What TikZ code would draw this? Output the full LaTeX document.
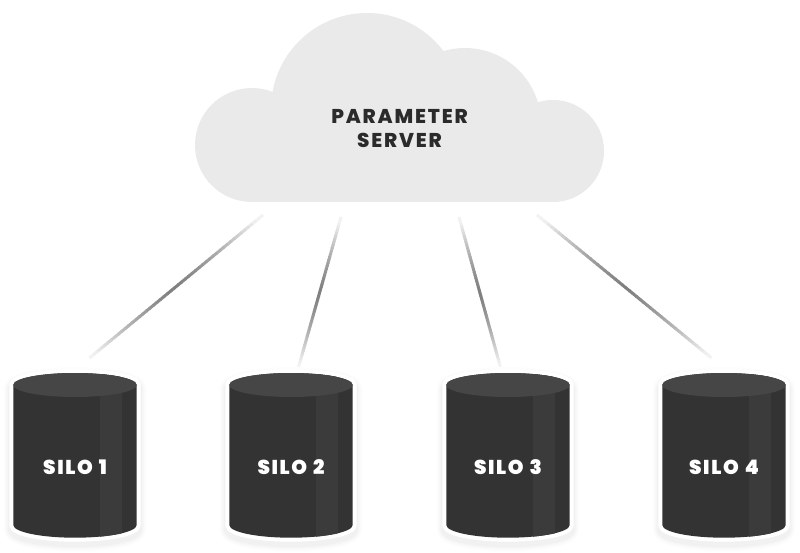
\documentclass[tikz,border=0pt]{standalone}
\usepackage{fontspec}
\setmainfont{Poppins}
\newfontfamily\labelfont[LetterSpace=9,BoldFont={Poppins ExtraBold}]{Poppins}
\newfontfamily\silofont[LetterSpace=8,BoldFont={Poppins Black},WordSpace=1.2]{Poppins}
\usetikzlibrary{calc}
\definecolor{cloudgray}{HTML}{EAEAEA}
\definecolor{silobody}{HTML}{333333}
\definecolor{silotop}{HTML}{464646}
\definecolor{silostripe}{HTML}{3B3B3B}
\definecolor{labeldark}{HTML}{2B2B2B}
\tikzset{
  cloudlabel/.style={align=center,text=labeldark,font=\labelfont\bfseries\fontsize{20}{24}\selectfont,inner sep=0pt},
  silolabel/.style={text=white,font=\silofont\bfseries\fontsize{20}{22}\selectfont,inner sep=0pt},
}
% gradient connector: fades to white at both ends
\newcommand{\fadelink}[2]{%
  \foreach \t in {0,0.02,...,0.98}{%
    \pgfmathsetmacro{\tnext}{\t+0.025}%
    \pgfmathsetmacro{\mixv}{max(5,50*(1-abs(2*\t+0.02-1)^1.4))}%
    \draw[line width=3pt,color=black!\mixv!white,line cap=butt] ($(#1)!\t!(#2)$) -- ($(#1)!\tnext!(#2)$);
  }%
}
\newcommand{\silopath}{%
  (-61.7,385) arc[start angle=180,end angle=360,x radius=61.7,y radius=12] -- (61.7,525)
  arc[start angle=0,end angle=180,x radius=61.7,y radius=12.7] -- cycle}
\newcommand{\silo}[3]{%
  \begin{scope}[shift={(#1,0)}]
    \begin{scope}[yshift=-4pt]
    \foreach \w/\o in {20/0.008,17/0.011,14/0.014,11/0.018}{%
      \draw[line width=\w pt,black,opacity=\o,line join=round] \silopath;
    }
    \end{scope}
    \path[fill=white,draw=white,line width=8pt,line join=round] \silopath;
    \fill[silobody] \silopath;
    \begin{scope}
      \clip \silopath;
      \fill[silostripe] (25,370) rectangle (47,540);
    \end{scope}
    \fill[silotop] (0,385) ellipse[x radius=61.7,y radius=12];
    \node[silolabel] (#2) at (0,467) {#3};
  \end{scope}}
\begin{document}
\begin{tikzpicture}[x=1pt,y=-1pt]
\useasboundingbox (0,0) rectangle (800,553);
\fill[white] (0,0) rectangle (800,553);
% cloud
\begin{scope}
\clip (0,0) rectangle (800,202);
\fill[cloudgray] (252,145) circle[radius=57];
\fill[cloudgray] (367,109) circle[radius=96];
\fill[cloudgray] (465,124) circle[radius=76];
\fill[cloudgray] (553,151) circle[radius=51];
\fill[cloudgray] (252,130) rectangle (553,202);
\end{scope}
\node[cloudlabel] (server) at (399.5,129) {PARAMETER\\SERVER};
% connector ends
\coordinate (a1) at (263,215); \coordinate (b1) at (87,360);
\coordinate (a2) at (341,217); \coordinate (b2) at (298,369);
\coordinate (a3) at (459,217); \coordinate (b3) at (501,369);
\coordinate (a4) at (537,215); \coordinate (b4) at (714,360);
\fadelink{a1}{b1}
\fadelink{a2}{b2}
\fadelink{a3}{b3}
\fadelink{a4}{b4}
\silo{75}{silo1}{SILO 1}
\silo{291}{silo2}{SILO 2}
\silo{508}{silo3}{SILO 3}
\silo{724}{silo4}{SILO 4}
\end{tikzpicture}
\end{document}
